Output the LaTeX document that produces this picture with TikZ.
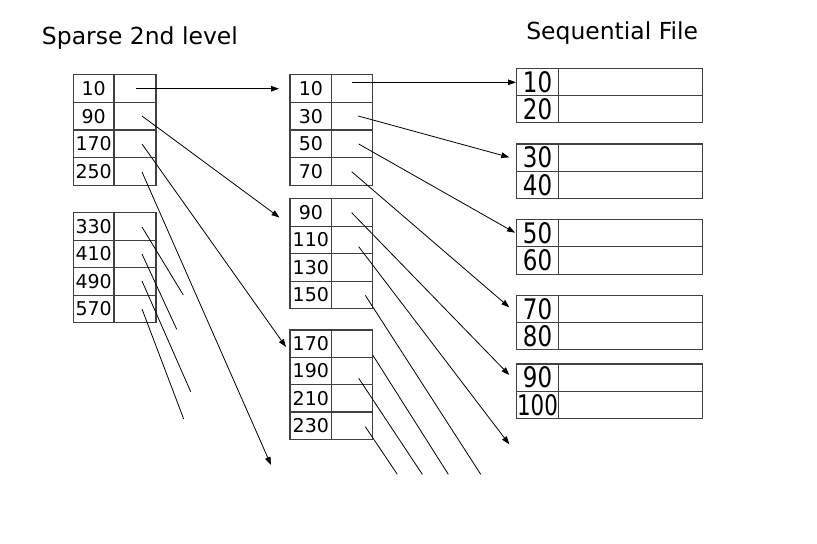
\documentclass[tikz,border=0pt]{standalone}
\usepackage{fontspec}
\usepackage{graphicx}
\setmainfont{DejaVu Sans}
\usetikzlibrary{arrows.meta}
\newcommand{\idxrow}[8]{%
  \node[cellbox, anchor=north west, minimum width={(#3-#2)*0.75pt}, minimum height={#6*0.75pt}, #8] (#1k) at (#2,#5) {#7};
  \node[cellbox, anchor=north west, minimum width={(#4-#3)*0.75pt}, minimum height={#6*0.75pt}] (#1p) at (#3,#5) {};
}
\newcommand{\bignum}[1]{\scalebox{1}[1.23]{#1}}
\tikzset{
  cellbox/.style={draw=black!75, line width=0.8pt, inner sep=0pt, outer sep=0pt, rectangle},
  smallnum/.style={font=\fontsize{14.25}{16}\selectfont},
  bignumst/.style={font=\fontsize{17.25}{20}\selectfont},
  titlest/.style={font=\fontsize{17.6}{20}\selectfont, inner sep=0pt, anchor=base west},
  ptr/.style={draw=black, line width=0.6pt},
  arr/.style={ptr, -{Triangle[length=6pt,width=4.2pt]}}
}
\begin{document}
\begin{tikzpicture}[x=0.75pt,y=-0.75pt]
\useasboundingbox[fill=white] (0,0) rectangle (817,543);
% titles
\node[titlest] (t1) at (41.7,44.3) {Sparse 2nd level};
\node[titlest] (t2) at (526,39.3) {Sequential File};
% second level blocks
\foreach \lab [count=\i from 0] in {10,90,170,250}
  {\idxrow{A\i}{73.3}{114}{156}{74.7+\i*27.65}{27.65}{\lab}{smallnum}}
\foreach \lab [count=\i from 0] in {330,410,490,570}
  {\idxrow{B\i}{73.3}{114}{156}{212.7+\i*27.5}{27.5}{\lab}{smallnum}}
% first level blocks
\foreach \lab [count=\i from 0] in {10,30,50,70}
  {\idxrow{C\i}{290}{331.7}{372.3}{74.7+\i*27.65}{27.65}{\lab}{smallnum}}
\foreach \lab [count=\i from 0] in {90,110,130,150}
  {\idxrow{D\i}{290}{331.7}{372.3}{198.7+\i*27.5}{27.5}{\lab}{smallnum}}
\foreach \lab [count=\i from 0] in {170,190,210,230}
  {\idxrow{E\i}{290}{331.7}{372.3}{330+\i*27.33}{27.33}{\lab}{smallnum}}
% sequential file
\idxrow{F0}{516.7}{558.3}{702.7}{68.3}{27.2}{\bignum{10}}{bignumst}
\idxrow{F1}{516.7}{558.3}{702.7}{95.5}{27.2}{\bignum{20}}{bignumst}
\idxrow{G0}{516.7}{558.3}{702.7}{144}{27.2}{\bignum{30}}{bignumst}
\idxrow{G1}{516.7}{558.3}{702.7}{171.2}{27.2}{\bignum{40}}{bignumst}
\idxrow{H0}{516.7}{558.3}{702.7}{219.7}{27.2}{\bignum{50}}{bignumst}
\idxrow{H1}{516.7}{558.3}{702.7}{246.9}{27.2}{\bignum{60}}{bignumst}
\idxrow{I0}{516.7}{558.3}{702.7}{295.3}{27.2}{\bignum{70}}{bignumst}
\idxrow{I1}{516.7}{558.3}{702.7}{322.5}{27.2}{\bignum{80}}{bignumst}
\idxrow{J0}{516.7}{558.3}{702.7}{364}{27.2}{\bignum{90}}{bignumst}
\idxrow{J1}{516.7}{558.3}{702.7}{391.2}{27.2}{\scalebox{0.93}[1.23]{100}}{bignumst}
% pointer coordinates
\coordinate (a1s) at (135.7,88.7);  \coordinate (a1e) at (279,88.7);
\coordinate (a2s) at (142,116);     \coordinate (a2e) at (279.5,217.5);
\coordinate (a3s) at (142,144);     \coordinate (a3e) at (286,347);
\coordinate (a4s) at (142,172);     \coordinate (a4e) at (271,465);
\coordinate (b1s) at (142,227);     \coordinate (b1e) at (183.3,295);
\coordinate (b2s) at (142,254);     \coordinate (b2e) at (176.7,329.3);
\coordinate (b3s) at (142,281);     \coordinate (b3e) at (190.7,391.7);
\coordinate (b4s) at (142,309);     \coordinate (b4e) at (183.7,419);
\coordinate (c1s) at (351.7,82.3);  \coordinate (c1e) at (516,82.3);
\coordinate (c2s) at (358.3,116);   \coordinate (c2e) at (509.3,157.3);
\coordinate (c3s) at (358.7,144);   \coordinate (c3e) at (515,232.7);
\coordinate (c4s) at (351.7,171.7); \coordinate (c4e) at (509.3,307.3);
\coordinate (d1s) at (351.7,212.7); \coordinate (d1e) at (509.3,375);
\coordinate (d2s) at (358.7,246.7); \coordinate (d2e) at (509.3,444.3);
\coordinate (d4s) at (365.3,295.3); \coordinate (d4e) at (480.7,474.3);
\coordinate (e1s) at (372.7,355);   \coordinate (e1e) at (448.3,474.3);
\coordinate (e2s) at (358.7,378.3); \coordinate (e2e) at (422.3,474.3);
\coordinate (e4s) at (365.3,426.7); \coordinate (e4e) at (397.3,474.3);
% arrows
\draw[arr] (a1s) -- (a1e);
\draw[arr] (a2s) -- (a2e);
\draw[arr] (a3s) -- (a3e);
\draw[arr] (a4s) -- (a4e);
\draw[ptr] (b1s) -- (b1e);
\draw[ptr] (b2s) -- (b2e);
\draw[ptr] (b3s) -- (b3e);
\draw[ptr] (b4s) -- (b4e);
\draw[arr] (c1s) -- (c1e);
\draw[arr] (c2s) -- (c2e);
\draw[arr] (c3s) -- (c3e);
\draw[arr] (c4s) -- (c4e);
\draw[arr] (d1s) -- (d1e);
\draw[arr] (d2s) -- (d2e);
\draw[ptr] (d4s) -- (d4e);
\draw[ptr] (e1s) -- (e1e);
\draw[ptr] (e2s) -- (e2e);
\draw[ptr] (e4s) -- (e4e);
\end{tikzpicture}
\end{document}
